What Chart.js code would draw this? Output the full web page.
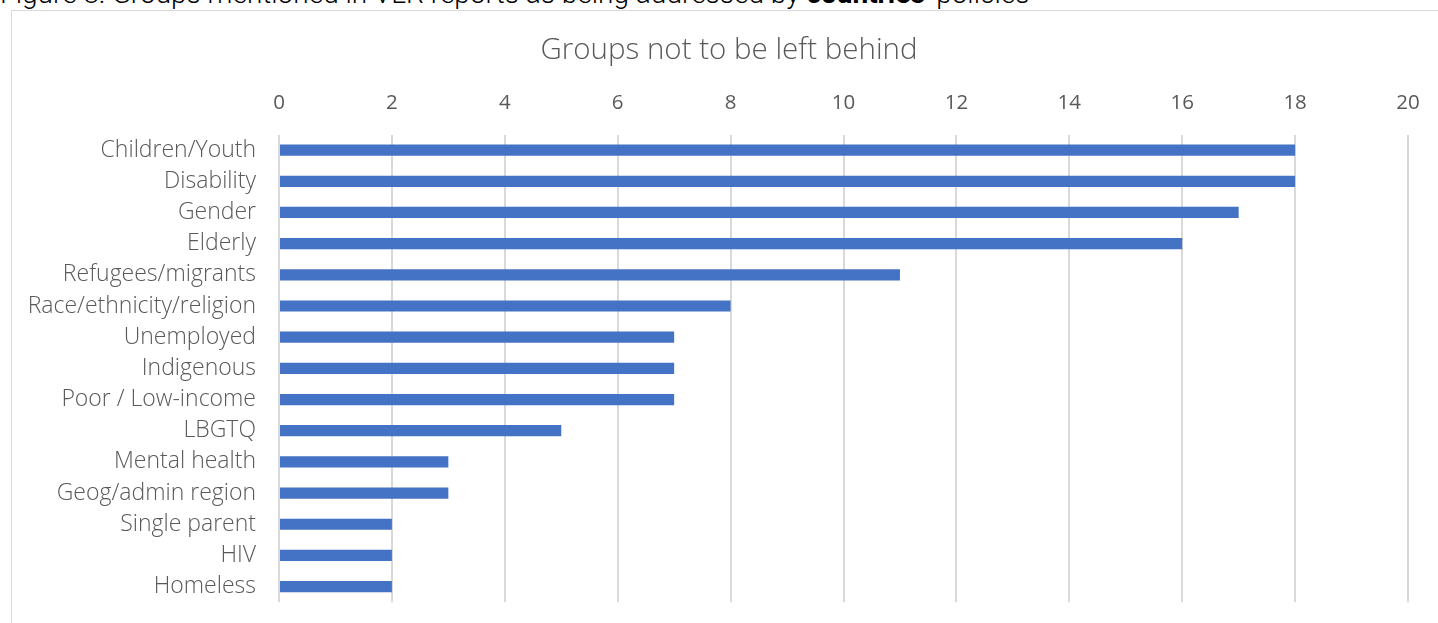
<!DOCTYPE html>
<html lang="en">
<head>
    <meta charset="UTF-8">
    <title>Groups not to be left behind</title>
    <style>
        body {
            margin: 0;
            padding: 0;
            background: #fff;
            width: 1438px;
            height: 623px;
            overflow: hidden;
            position: relative;
        }

        .caption {
            position: absolute;
            left: 0;
            top: -23px;
            font-family: Roboto, "Liberation Sans", sans-serif;
            font-weight: 300;
            font-size: 28px;
            color: #000;
            white-space: nowrap;
        }

        .caption b {
            font-weight: 700;
        }

        .chart-box {
            position: absolute;
            left: 11px;
            top: 10px;
            width: 1440px;
            height: 628px;
            border: 1px solid #d9d9d9;
            background: #fff;
        }

        canvas {
            display: block;
        }
    </style>
</head>
<body>
<div class="caption">Figure 8: Groups mentioned in VLR reports as being addressed by <b>countries'</b> policies</div>
<div class="chart-box">
    <canvas id="groupsChart" width="1440" height="628"></canvas>
</div>
<script src="https://cdn.jsdelivr.net/npm/chart.js"></script>
<script>
    // data
    const groups = ['Children/Youth', 'Disability', 'Gender', 'Elderly', 'Refugees/migrants',
        'Race/ethnicity/religion', 'Unemployed', 'Indigenous', 'Poor / Low-income', 'LBGTQ',
        'Mental health', 'Geog/admin region', 'Single parent', 'HIV', 'Homeless'];
    const counts = [18, 18, 17, 16, 11, 8, 7, 7, 7, 5, 3, 3, 2, 2, 2];
    const xTicks = [0, 2, 4, 6, 8, 10, 12, 14, 16, 18, 20];

    const grey = '#595959';
    const fontFam = '"Open Sans", Lato, sans-serif';

    // left padding is only there to centre the title like the original;
    // let the long category labels use that space too
    const labelRoom = {
        id: 'labelRoom',
        afterLayout(chart) {
            chart.scales.y.left = 0;
        }
    };

    const ctx = document.getElementById('groupsChart').getContext('2d');
    new Chart(ctx, {
        type: 'bar',
        data: {
            labels: groups,
            datasets: [{
                data: counts,
                backgroundColor: '#4472c4',
                barPercentage: 0.36,
                categoryPercentage: 1
            }]
        },
        options: {
            indexAxis: 'y',
            responsive: false,
            animation: false,
            layout: {
                padding: { left: 38, right: 44, top: 0, bottom: 0 }
            },
            plugins: {
                legend: { display: false },
                tooltip: { enabled: false },
                title: {
                    display: true,
                    text: 'Groups not to be left behind',
                    color: grey,
                    font: { family: fontFam, size: 29.5, weight: 300 },
                    padding: { top: 22, bottom: 3.5 }
                }
            },
            scales: {
                x: {
                    position: 'top',
                    min: 0,
                    max: 20,
                    afterBuildTicks: function (axis) {
                        axis.ticks = xTicks.map(v => ({ value: v }));
                    },
                    grid: {
                        color: '#d9d9d9',
                        lineWidth: 2,
                        drawTicks: false
                    },
                    border: { display: false },
                    ticks: {
                        color: grey,
                        padding: 19,
                        font: { family: fontFam, size: 20.5 }
                    }
                },
                y: {
                    grid: { display: false, drawTicks: false },
                    border: { display: false },
                    afterFit: function (axis) {
                        axis.width = 229;
                    },
                    ticks: {
                        color: grey,
                        padding: 23,
                        font: { family: fontFam, size: 23, weight: 300 }
                    }
                }
            }
        },
        plugins: [labelRoom]
    });
</script>
</body>
</html>
